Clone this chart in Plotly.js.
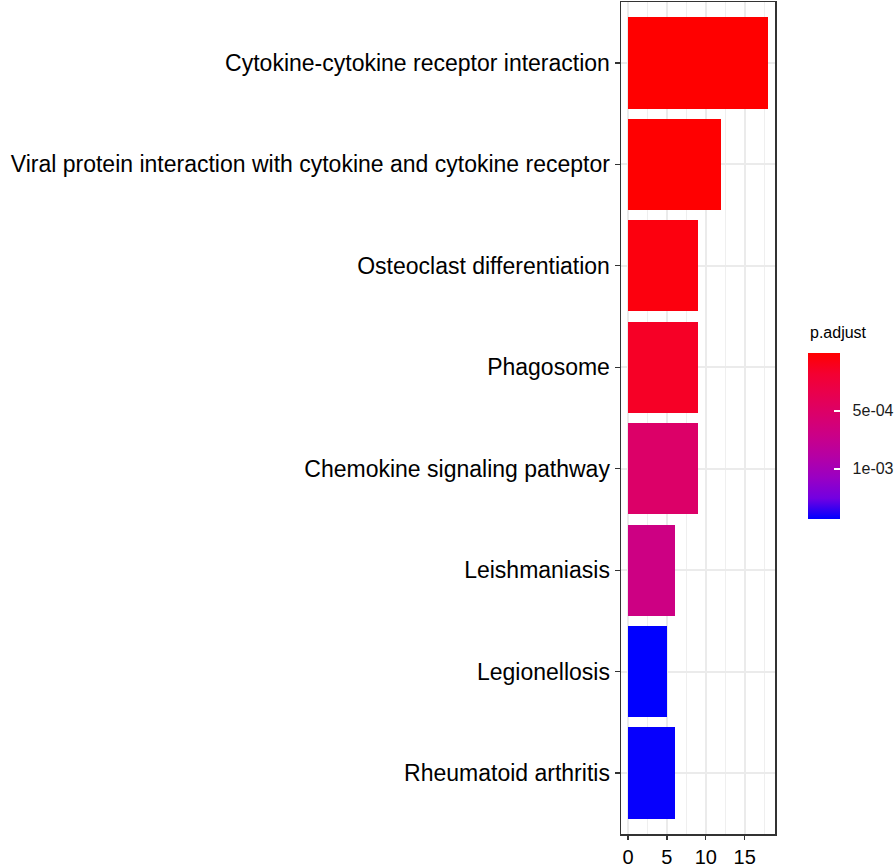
<!DOCTYPE html>
<html>
<head>
<meta charset="utf-8">
<script src="https://cdn.plot.ly/plotly-3.0.1.min.js"></script>
<style>html,body{margin:0;padding:0;background:#fff;}#chart{width:896px;height:868px;}</style>
</head>
<body>
<div id="chart"></div>
<script>
// Data (top to bottom)
var pathways = [
  "Cytokine-cytokine receptor interaction",
  "Viral protein interaction with cytokine and cytokine receptor",
  "Osteoclast differentiation",
  "Phagosome",
  "Chemokine signaling pathway",
  "Leishmaniasis",
  "Legionellosis",
  "Rheumatoid arthritis"
];
var counts = [18, 12, 9, 9, 9, 6, 5, 6];
var padjust = [1e-8, 2e-6, 5e-5, 1.4e-4, 5.1e-4, 6.8e-4, 1.43e-3, 1.42e-3];
var cbTickVals = [5e-4, 1e-3];
var cbTickText = ["5e-04", "1e-03"];
var xTickVals = [0, 5, 10, 15];

// ggplot red->blue (Lab interpolated) sampled; low p = red
var scale = [
  [0, "rgb(0,0,255)"], [0.125, "rgb(115,0,225)"], [0.25, "rgb(154,0,195)"],
  [0.375, "rgb(181,0,165)"], [0.5, "rgb(202,0,136)"], [0.625, "rgb(218,0,108)"],
  [0.75, "rgb(232,0,79)"], [0.875, "rgb(244,0,49)"], [1, "rgb(255,0,0)"]
];
var pmin = Math.min.apply(null, padjust), pmax = Math.max.apply(null, padjust);
var FONT = "Liberation Sans, Arial, sans-serif";

var trace = {
  type: "bar",
  orientation: "h",
  x: counts,
  y: pathways.map(function(_, i){ return i; }),
  width: 0.9,
  marker: {
    color: padjust.map(function(v){ return -v; }),
    colorscale: scale,
    cmin: -pmax, cmax: -pmin,
    line: {width: 0},
    showscale: true,
    colorbar: {
      xref: "container", yref: "container",
      x: 808/896, xanchor: "left",
      y: 1 - 368/868, yanchor: "top",
      lenmode: "pixels", len: 166,
      thicknessmode: "pixels", thickness: 32,
      xpad: 0, ypad: 0,
      outlinewidth: 0,
      tickvals: cbTickVals.map(function(v){ return -v; }),
      ticktext: cbTickText.map(function(t){ return "\u00a0\u00a0" + t; }),
      ticks: "inside", ticklen: 6, tickcolor: "#fff", tickwidth: 1.5,
      tickfont: {family: FONT, size: 16, color: "#1a1a1a"}
    }
  },
  hoverinfo: "x+y"
};

var layout = {
  width: 896, height: 868,
  margin: {l: 621, r: 121, t: 2, b: 34, pad: 0},
  paper_bgcolor: "#fff", plot_bgcolor: "#fff",
  showlegend: false,
  bargap: 0,
  font: {family: FONT},
  annotations: [{
    text: "p.adjust", xref: "paper", yref: "paper",
    x: (808 - 621) / 154, y: (834 - 332) / 832,
    xanchor: "left", yanchor: "middle", showarrow: false,
    font: {family: FONT, size: 16, color: "#000"}
  }],
  xaxis: {
    range: [-0.9, 18.9],
    tickvals: xTickVals,
    ticktext: xTickVals.map(String),
    ticks: "outside", ticklen: 4, tickcolor: "#333", tickwidth: 1.3,
    showgrid: true, gridcolor: "#EBEBEB", gridwidth: 1.8,
    minor: {dtick: 2.5, tick0: 0, showgrid: true, gridcolor: "#EFEFEF", gridwidth: 1.2},
    zeroline: false,
    showline: true, mirror: true, linecolor: "#333", linewidth: 1.5,
    tickfont: {family: FONT, size: 20, color: "#000"},
    fixedrange: true
  },
  yaxis: {
    range: [7.6, -0.6],
    tickvals: pathways.map(function(_, i){ return i; }),
    ticktext: pathways,
    ticks: "outside", ticklen: 5, tickcolor: "#333", tickwidth: 1.3,
    showgrid: true, gridcolor: "#EBEBEB", gridwidth: 1.8,
    zeroline: false,
    showline: true, mirror: true, linecolor: "#333", linewidth: 1.5,
    tickfont: {family: FONT, size: 23, color: "#000"},
    fixedrange: true
  }
};

Plotly.newPlot("chart", [trace], layout, {displayModeBar: false, staticPlot: true});
</script>
</body>
</html>
